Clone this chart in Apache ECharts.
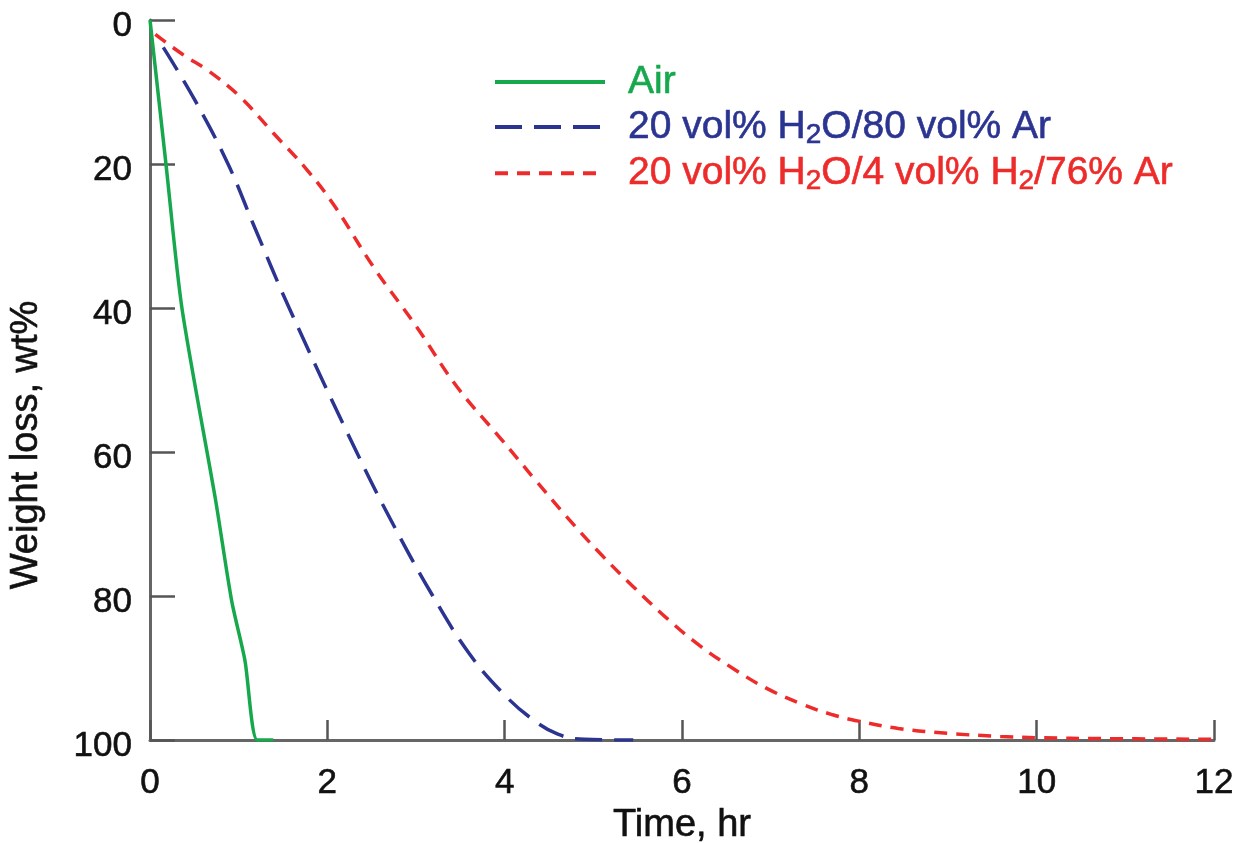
<!DOCTYPE html>
<html>
<head>
<meta charset="utf-8">
<script src="https://cdn.jsdelivr.net/npm/echarts@6/dist/echarts.min.js"></script>
<style>
  html, body { margin: 0; padding: 0; background: #ffffff; }
  #chart { width: 1242px; height: 843px; }
</style>
</head>
<body>
<div id="chart"></div>
<script>
// ---- data (time in hr, weight loss in wt%) ----
const seriesNames = ['Air', '20 vol% H2O/80 vol% Ar', '20 vol% H2O/4 vol% H2/76% Ar'];
const airData = [[0,0],[0.18,20],[0.36,40],[0.74,66.7],[0.92,80.6],[1.07,88.9],[1.21,100],[1.39,100]];
const h2oArData = [[0.15,3.8],[0.5,11],[0.88,20],[1.17,28.5],[1.57,40],[2.33,60],[2.74,70],[3.19,80],[3.6,88],[3.98,93.5],[4.3,97],[4.6,99.2],[4.9,99.9],[5.45,100]];
const h2oH2ArData = [[0.06,2],[0.37,4.8],[0.64,6.9],[1.01,10.6],[1.39,15.7],[1.77,20.8],[2.08,25.8],[2.52,34.3],[3.0,42.5],[3.46,50.9],[3.96,58.2],[4.34,63.8],[4.70,69],[5.07,74],[5.45,78.7],[5.83,83.1],[6.2,86.9],[6.58,90.1],[6.95,92.8],[7.35,95],[7.7,96.5],[8.0,97.4],[8.44,98.4],[9.02,99.1],[9.59,99.5],[10.07,99.7],[10.7,99.8],[12,99.9]];
const xTicks = { min: 0, max: 12, interval: 2 };
const yTicks = { min: 0, max: 100, interval: 20 };
const xName = 'Time, hr';
const yName = 'Weight loss, wt%';

const colors = ['#17a84d', '#2b3490', '#ee2b2b'];
const font = '"Liberation Sans", Arial, Helvetica, sans-serif';
const ink = '#111111';

const chart = echarts.init(document.getElementById('chart'), null, { renderer: 'canvas' });

function legendLabel(name) {
  return name.replace(/H2/g, 'H{sub|2}');
}

const option = {
  backgroundColor: '#ffffff',
  animation: false,
  grid: { left: 150, right: 28, top: 20, bottom: 103, containLabel: false, outerBoundsMode: 'none' },
  legend: {
    orient: 'vertical',
    left: 488,
    top: 56,
    itemWidth: 110,
    itemHeight: 14,
    itemGap: 2,
    itemStyle: { color: 'rgba(0,0,0,0)', borderColor: 'rgba(0,0,0,0)', borderWidth: 0 },
    lineStyle: { width: 4 },
    data: seriesNames.map((n, i) => ({
      name: n,
      textStyle: { color: colors[i], textBorderColor: colors[i], textBorderWidth: 0.6 }
    })),
    formatter: legendLabel,
    textStyle: {
      fontFamily: font,
      fontSize: 39,
      lineHeight: 42,
      padding: [0, 0, 0, 18],
      rich: {
        sub: { fontSize: 28, fontFamily: font, padding: [16, 0, 0, 0], lineHeight: 42 }
      }
    }
  },
  xAxis: {
    type: 'value',
    min: xTicks.min, max: xTicks.max, interval: xTicks.interval,
    name: xName,
    nameLocation: 'middle',
    nameGap: 52,
    nameTextStyle: { fontFamily: font, fontSize: 38, color: ink, textBorderColor: ink, textBorderWidth: 0.6 },
    axisLine: { show: true, onZero: false, lineStyle: { color: '#666', width: 3 } },
    axisTick: { show: true, inside: true, length: 20, lineStyle: { color: '#555', width: 2.5 } },
    axisLabel: { margin: 26, fontFamily: font, fontSize: 35, color: ink, textBorderColor: ink, textBorderWidth: 0.6 },
    splitLine: { show: false }
  },
  yAxis: {
    type: 'value',
    inverse: true,
    min: yTicks.min, max: yTicks.max, interval: yTicks.interval,
    name: yName,
    nameLocation: 'middle',
    nameGap: 104,
    nameRotate: 90,
    nameTextStyle: { fontFamily: font, fontSize: 38, color: ink, textBorderColor: ink, textBorderWidth: 0.6, padding: [0, 130, 0, 0] },
    axisLine: { show: true, onZero: false, lineStyle: { color: '#666', width: 3 } },
    axisTick: { show: true, inside: true, length: 25, lineStyle: { color: '#555', width: 2.5 } },
    axisLabel: {
      margin: 18, fontFamily: font, fontSize: 35, color: ink,
      formatter: '{a|{value}}',
      rich: { a: { fontFamily: font, fontSize: 35, color: ink, textBorderColor: ink, textBorderWidth: 0.6, padding: [12, 0, 0, 0] } }
    },
    splitLine: { show: false }
  },
  series: [
    {
      name: seriesNames[0], type: 'line', data: airData, symbol: 'none', smooth: 0.25,
      lineStyle: { color: colors[0], width: 3.5, type: 'solid' },
      itemStyle: { color: colors[0] }, z: 4
    },
    {
      name: seriesNames[1], type: 'line', data: h2oArData, symbol: 'none', smooth: 0.4,
      lineStyle: { color: colors[1], width: 3.5, type: [27, 12] },
      itemStyle: { color: colors[1] }, z: 3
    },
    {
      name: seriesNames[2], type: 'line', data: h2oH2ArData, symbol: 'none', smooth: 0.4,
      lineStyle: { color: colors[2], width: 3.5, type: [13, 9] },
      itemStyle: { color: colors[2] }, z: 2
    }
  ]
};
chart.setOption(option);
</script>
</body>
</html>
